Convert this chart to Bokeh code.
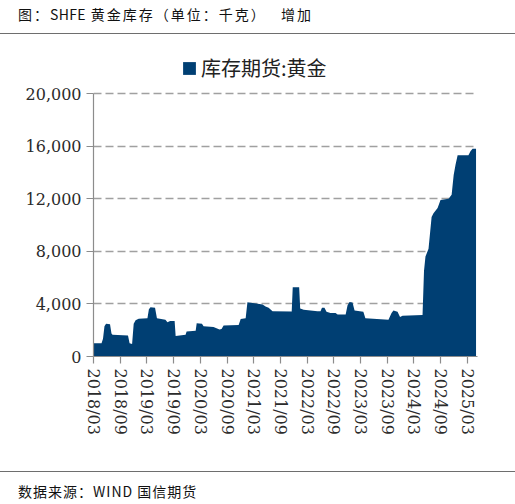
import pandas as pd
from bokeh.embed import file_html
from bokeh.layouts import column
from bokeh.models import (ColumnDataSource, DatetimeTickFormatter, Div,
                          FixedTicker, NumeralTickFormatter, Range1d)
from bokeh.plotting import figure
from bokeh.resources import INLINE

# SHFE gold futures inventory, kg
dates = [
    "2018-03-01", "2018-04-25", "2018-05-05", "2018-05-15", "2018-05-26", "2018-06-22",
    "2018-07-02", "2018-07-09", "2018-10-23", "2018-11-03", "2018-11-20", "2018-12-01",
    "2018-12-14", "2019-01-04", "2019-03-05", "2019-03-15", "2019-03-26", "2019-04-26",
    "2019-05-09", "2019-07-06", "2019-07-20", "2019-08-07", "2019-09-07", "2019-09-14",
    "2019-11-21", "2019-11-28", "2020-01-29", "2020-02-05", "2020-03-12", "2020-03-23",
    "2020-05-30", "2020-07-10", "2020-07-24", "2020-08-07", "2020-11-18", "2020-12-02",
    "2021-01-05", "2021-01-17", "2021-03-06", "2021-05-01", "2021-05-21", "2021-06-11",
    "2021-07-08", "2021-11-16", "2021-11-23", "2022-01-06", "2022-01-13", "2022-02-06",
    "2022-05-11", "2022-06-01", "2022-06-11", "2022-06-28", "2022-07-12", "2022-08-08",
    "2022-09-12", "2022-09-26", "2022-11-20", "2022-12-03", "2022-12-17", "2023-01-06",
    "2023-01-20", "2023-03-21", "2023-04-04", "2023-09-09", "2023-09-30", "2023-10-13",
    "2023-11-10", "2023-11-27", "2023-12-14", "2024-04-29", "2024-05-09", "2024-05-19",
    "2024-06-09", "2024-06-30", "2024-07-13", "2024-08-10", "2024-08-30", "2024-10-24",
    "2024-11-14", "2024-11-28", "2024-12-11", "2024-12-25", "2025-03-09", "2025-03-23",
    "2025-04-06", "2025-04-30",
]
stock = [
    1000, 1000, 1350, 2300, 2500, 2450,
    1750, 1650, 1600, 1000, 950, 2500,
    2750, 2870, 2900, 3600, 3750, 3700,
    2900, 2800, 2600, 2700, 2700, 1550,
    1650, 1900, 1950, 2530, 2500, 2300,
    2250, 2050, 2100, 2350, 2400, 2850,
    2900, 4130, 4050, 3950, 3800, 3700,
    3450, 3420, 5270, 5270, 3650, 3550,
    3450, 3450, 3700, 3700, 3400, 3300,
    3300, 3200, 3200, 3900, 4150, 4100,
    3500, 3400, 2900, 2800, 3300, 3500,
    3400, 3000, 3100, 3150, 6500, 7600,
    8200, 10600, 10900, 11300, 11900, 12000,
    12300, 13800, 14600, 15300, 15300, 15600,
    15800, 15800,
]
tick_dates = [
    "2018-03-01", "2018-09-01", "2019-03-01", "2019-09-01", "2020-03-01",
    "2020-09-01", "2021-03-01", "2021-09-01", "2022-03-01", "2022-09-01",
    "2023-03-01", "2023-09-01", "2024-03-01", "2024-09-01", "2025-03-01",
]
y_ticks = [0, 4000, 8000, 12000, 16000, 20000]

title_parts = ("图：", "SHFE", " 黄金库存（单位：千克）\u3000 增加")
source_text = "数据来源：WIND 国信期货"
series_name = "库存期货:黄金"

navy = "#003f73"
axis_gray = "#8c8c8c"
label_color = "#2b2b2b"
serif = "DejaVu Serif"
cjk = "Noto Sans CJK SC"


def to_ms(ds):
    return [int(v) for v in (pd.to_datetime(ds).asi8 // 10**6)]


src = ColumnDataSource(data=dict(x=pd.to_datetime(dates), y=stock))

# the frame reaches above 20,000 so the legend can sit inside it
p = figure(width=515, height=437, x_axis_type="datetime",
           x_range=Range1d(*pd.to_datetime(["2018-03-01", "2025-05-10"])),
           y_range=Range1d(0, 23270),
           min_border_left=93, min_border_right=38,
           min_border_top=16, min_border_bottom=115,
           output_backend="svg", toolbar_location=None)

p.varea(x="x", y1=0, y2="y", source=src, fill_color=navy,
        legend_label=series_name)

p.outline_line_color = None
p.background_fill_color = "white"
p.xgrid.grid_line_color = None
p.ygrid.grid_line_color = "#a0a0a0"
p.ygrid.grid_line_width = 1.5
p.ygrid.grid_line_dash = "8 4"

p.xaxis.ticker = FixedTicker(ticks=to_ms(tick_dates))
fmt = "%Y/%m"
p.xaxis.formatter = DatetimeTickFormatter(
    milliseconds=fmt, seconds=fmt, minsec=fmt, minutes=fmt, hourmin=fmt,
    hours=fmt, days=fmt, months=fmt, years=fmt)
p.xaxis.major_label_orientation = "vertical"
p.yaxis.ticker = FixedTicker(ticks=y_ticks)
p.yaxis.formatter = NumeralTickFormatter(format="0,0")
p.yaxis.bounds = (0, 20000)

for ax in (p.xaxis, p.yaxis):
    ax.axis_line_color = axis_gray
    ax.axis_line_width = 1.2
    ax.major_tick_line_color = axis_gray
    ax.major_tick_line_width = 1.2
    ax.major_tick_in = 0
    ax.major_tick_out = 7
    ax.minor_tick_line_color = None
    ax.major_label_text_font = serif
    ax.major_label_text_font_size = "16px"
    ax.major_label_text_color = label_color
p.xaxis.major_label_standoff = 5
p.yaxis.major_label_standoff = 5

lg = p.legend[0]
lg.location = (88, 274)
lg.border_line_color = None
lg.background_fill_alpha = 0
lg.padding = 0
lg.margin = 0
lg.spacing = 0
lg.glyph_width = 16
lg.glyph_height = 16
lg.label_standoff = 4
lg.label_text_font = cjk
lg.label_text_font_size = "20px"
lg.label_text_color = "#222222"

header = Div(
    text=('<div style="box-sizing:border-box;width:515px;height:34px;'
          'border-bottom:1.5px solid #6e6e6e;padding-left:18px;padding-top:7px;'
          'white-space:pre;font-family:\'Noto Sans CJK SC\';font-size:14px;'
          'line-height:14px;letter-spacing:2px;color:#111;">'
          + title_parts[0]
          + '<span style="letter-spacing:0.3px;">' + title_parts[1] + '</span>'
          + title_parts[2] + '</div>'),
    width=515, height=34, margin=0)
footer = Div(
    text=('<div style="box-sizing:border-box;width:515px;height:33px;'
          'border-top:1.5px solid #6e6e6e;padding-left:18px;padding-top:12px;'
          'white-space:pre;font-family:\'Noto Sans CJK SC\';font-size:14px;'
          'line-height:14px;letter-spacing:1px;color:#111;">' + source_text + '</div>'),
    width=515, height=33, margin=0)

layout = column(header, p, footer, spacing=0)

open("out.html", "w").write(file_html(layout, INLINE))
